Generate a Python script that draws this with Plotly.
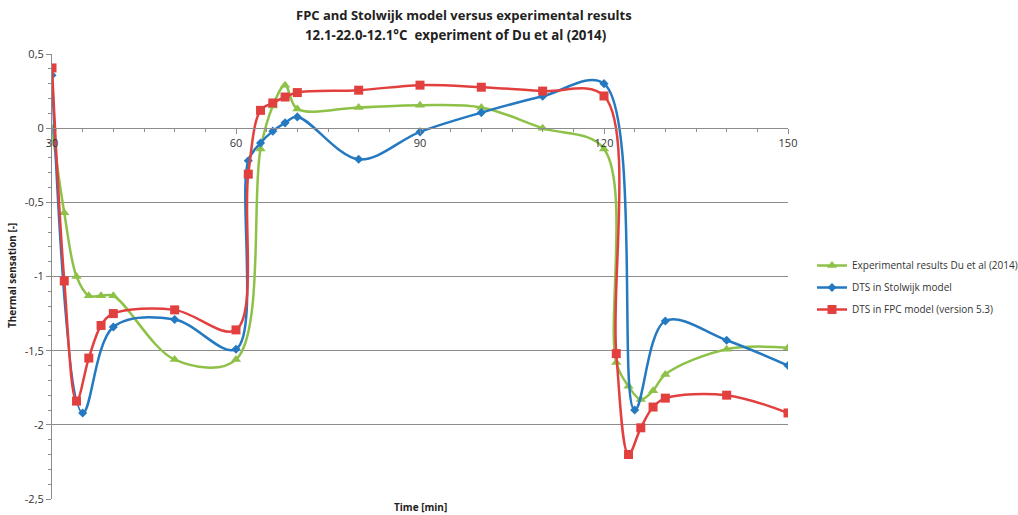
import plotly.graph_objects as go

# ---- data ----
time_exp = [30, 32, 34, 36, 38, 40, 50, 60, 64, 66, 68, 70, 80, 90, 100, 110, 120, 122, 124, 126, 128, 130, 140, 150]
sens_exp = [0, -0.57, -1.0, -1.13, -1.13, -1.13, -1.56, -1.56, -0.14, 0.15, 0.29, 0.13, 0.14, 0.155, 0.14, 0.0, -0.14,
            -1.58, -1.74, -1.83, -1.77, -1.66, -1.49, -1.48]

time_stol = [30, 35, 40, 50, 60, 62, 64, 66, 68, 70, 80, 90, 100, 110, 120, 125, 130, 140, 150]
sens_stol = [0.357, -1.92, -1.34, -1.29, -1.49, -0.22, -0.10, -0.02, 0.036, 0.076, -0.21, -0.025, 0.105, 0.215, 0.30,
             -1.90, -1.30, -1.43, -1.60]

time_fpc = [30, 32, 34, 36, 38, 40, 50, 60, 62, 64, 66, 68, 70, 80, 90, 100, 110, 120, 122, 124, 126, 128, 130, 140, 150]
sens_fpc = [0.406, -1.03, -1.84, -1.55, -1.33, -1.25, -1.225, -1.36, -0.31, 0.12, 0.17, 0.21, 0.24, 0.256, 0.29, 0.276,
            0.25, 0.217, -1.52, -2.2, -2.02, -1.88, -1.82, -1.80, -1.92]

series_names = ["Experimental results Du et al (2014)", "DTS in Stolwijk model", "DTS in FPC model (version 5.3)"]

x_ticks = [30, 60, 90, 120, 150]
y_ticks = [0.5, 0, -0.5, -1, -1.5, -2, -2.5]
y_tick_labels = ["0,5", "0", "-0,5", "-1", "-1,5", "-2", "-2,5"]

title_lines = ["FPC and Stolwijk model versus experimental results",
               "12.1-22.0-12.1°C  experiment of Du et al (2014)"]
x_title = "Time [min]"
y_title = "Thermal sensation [-]"

# ---- styling ----
GREEN = "#8DC147"
BLUE = "#2479C1"
RED = "#E2403F"
GRID = "#8C8C8C"
FONT = "Open Sans"

W, H = 1018, 515
ML, MR, MT, MB = 52, 230, 54, 16
PW, PH = W - ML - MR, H - MT - MB

y_range = [-2.5, 0.5]
x_range = [30, 150]

fig = go.Figure()
fig.add_trace(go.Scatter(x=time_exp, y=sens_exp, name=series_names[0], mode="lines+markers", legendgroup="g1",
                         line=dict(color=GREEN, width=2.5, shape="spline", smoothing=1.0),
                         marker=dict(symbol="triangle-up", size=9, color=GREEN)))
fig.add_trace(go.Scatter(x=time_stol, y=sens_stol, name=series_names[1], mode="lines+markers", legendgroup="g2",
                         line=dict(color=BLUE, width=2.5, shape="spline", smoothing=1.0),
                         marker=dict(symbol="diamond", size=7, color=BLUE)))
fig.add_trace(go.Scatter(x=time_fpc, y=sens_fpc, name=series_names[2], mode="lines+markers", legendgroup="g3",
                         line=dict(color=RED, width=2.5, shape="spline", smoothing=1.0),
                         marker=dict(symbol="square", size=9, color=RED)))

zero_pos = (0 - y_range[0]) / (y_range[1] - y_range[0])


def px_x(px):
    return (px - ML) / PW


def px_y(py):
    return (H - MB - py) / PH


fig.update_layout(
    width=W, height=H,
    paper_bgcolor="white", plot_bgcolor="white",
    margin=dict(l=ML, r=MR, t=MT, b=MB, autoexpand=False),
    font=dict(family=FONT, size=11, color="#333333"),
    showlegend=True,
    legend=dict(x=px_x(812), xanchor="left", y=px_y(251), yanchor="top", bgcolor="rgba(0,0,0,0)",
                traceorder="grouped", tracegroupgap=3,
                font=dict(family=FONT, size=10, color="#333333")),
    xaxis=dict(range=x_range, tickvals=x_ticks, ticktext=[str(v) for v in x_ticks],
               anchor="free", position=zero_pos, showgrid=False, zeroline=False,
               showline=True, linecolor=GRID, linewidth=1,
               ticks="outside", ticklen=5, tickcolor=GRID,
               minor=dict(dtick=5, ticks="outside", ticklen=3, tickcolor=GRID),
               tickfont=dict(family=FONT, size=11, color="#333333")),
    xaxis2=dict(range=x_range, overlaying="x", anchor="y", side="bottom", showgrid=False, zeroline=False,
                showline=True, mirror=True, linecolor=GRID, linewidth=1, ticks="", showticklabels=False),
    yaxis=dict(range=y_range, tickvals=y_ticks, ticktext=y_tick_labels,
               showgrid=True, gridcolor=GRID, gridwidth=1, zeroline=False,
               showline=True, linecolor=GRID, linewidth=1,
               ticks="outside", ticklen=5, tickcolor=GRID,
               minor=dict(dtick=0.1, ticks="outside", ticklen=3, tickcolor=GRID, showgrid=False),
               tickfont=dict(family=FONT, size=11, color="#333333")),
    annotations=[
        dict(text="<b>" + title_lines[0] + "</b>", xref="paper", yref="paper", x=px_x(464), y=px_y(15),
             xanchor="center", yanchor="middle", showarrow=False,
             font=dict(family=FONT, size=13, color="#222222")),
        dict(text="<b>" + title_lines[1] + "</b>", xref="paper", yref="paper", x=px_x(455), y=px_y(35),
             xanchor="center", yanchor="middle", showarrow=False,
             font=dict(family=FONT, size=13.3, color="#222222")),
        dict(text="<b>" + x_title + "</b>", xref="paper", yref="paper", x=px_x(420), y=px_y(507),
             xanchor="center", yanchor="middle", showarrow=False, font=dict(family=FONT, size=10, color="#222222")),
        dict(text="<b>" + y_title + "</b>", xref="paper", yref="paper", x=px_x(12), y=px_y(276),
             xanchor="center", yanchor="middle", textangle=-90, showarrow=False,
             font=dict(family=FONT, size=10, color="#222222")),
    ],
)

fig.write_html("out.html", config={"displayModeBar": False},
               post_script="document.body.style.margin='0';document.body.style.overflow='hidden';")
